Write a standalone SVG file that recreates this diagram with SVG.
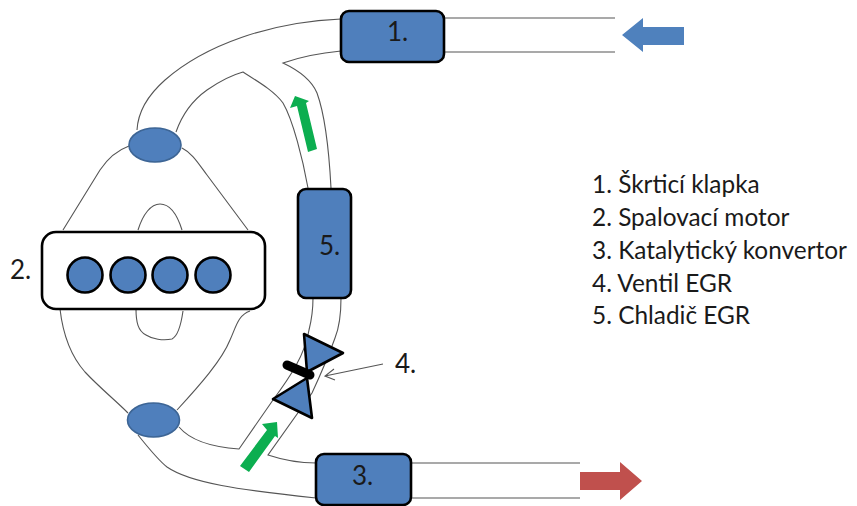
<svg xmlns="http://www.w3.org/2000/svg" width="857" height="506" viewBox="0 0 857 506">
<style>
.pipe{fill:none;stroke:#555;stroke-width:1.1}
.blue{fill:#4f7fbc;stroke:#000;stroke-width:2.6;stroke-linejoin:round}
.ell{fill:#4f7fbc;stroke:#3d6595;stroke-width:1.6}
.t{font-family:"Lato","Open Sans",sans-serif;font-size:26px;fill:#1a1a1a}
.l{font-family:"Lato","Open Sans",sans-serif;font-size:24.400px;fill:#1a1a1a}
.g{fill:#0cae50}
</style>
<rect width="857" height="506" fill="#fff"/>
<g id="connectors">
<path class="pipe" d="M341 19C270 22 205 45 165 80C148 95 138 112 137 130"/>
<path class="pipe" d="M176 132C183 112 193 100 207 90C220 81 232 75 243 72C262 84 275 92 283 103C293 120 303 160 308 188"/>
<path class="pipe" d="M341 51C320 53 300 57 283 63C300 71 312 81 317 93C325 115 329 150 331 188"/>
<path class="pipe" d="M444 18H615M444 52H615"/>
<path class="pipe" d="M129 146C118 150 108 158 100 170L63 230"/>
<path class="pipe" d="M182 148C192 153 198 163 207 175L248 230"/>
<path class="pipe" d="M138 230C143 214 151 204 160 204C170 204 177 214 182 230"/>
<path class="pipe" d="M60 309C63 335 70 355 85 372C100 388 115 400 128 413"/>
<path class="pipe" d="M250 311C238 315 236 327 230 340C222 360 200 385 177 410"/>
<path class="pipe" d="M136 309C136 322 138 331 146 335C152 339 163 341 172 339C178 336 181 325 183 311"/>
<path class="pipe" d="M179 427C190 440 210 447 239 449L273 400C290 377 305 355 309 330C312 318 313 308 313 298"/>
<path class="pipe" d="M341 298C341 315 339 328 335 338C330 352 325 365 312 393L268 455C280 459 295 463 316 463"/>
<path class="pipe" d="M138 435C150 450 158 460 167 467C190 483 240 490 316 498"/>
<path class="pipe" d="M411 463H580M411 498H580"/>
<path class="pipe" d="M383 364L325 376M334 369L325 376L335 380"/>
</g>
<g id="node-1"><rect class="blue" x="341" y="11" width="103" height="51" rx="8"/><text class="t" x="387" y="41">1.</text></g>
<g id="node-2">
<rect x="42" y="232" width="223" height="77" rx="14" fill="#fff" stroke="#000" stroke-width="2.6"/>
<circle class="blue" cx="85" cy="275" r="17.500"/><circle class="blue" cx="128" cy="275" r="17.500"/><circle class="blue" cx="170" cy="275" r="17.500"/><circle class="blue" cx="213" cy="275" r="17.500"/>
<text class="t" x="10" y="279">2.</text>
</g>
<g id="intake-port"><ellipse class="ell" cx="155" cy="145" rx="26" ry="17"/></g>
<g id="exhaust-port"><ellipse class="ell" cx="153.500" cy="420" rx="26" ry="17"/></g>
<g id="node-5"><rect class="blue" x="298" y="189" width="53" height="109" rx="8"/><text class="t" x="319" y="255">5.</text></g>
<g id="node-3"><rect class="blue" x="316" y="454" width="95" height="51" rx="8"/><text class="t" x="352" y="485">3.</text></g>
<g id="node-4">
<path class="blue" d="M304 334L343 353L307 372Z"/>
<path class="blue" d="M273 399L312 418L307 378Z"/>
<path d="M287 365L310 375" stroke="#000" stroke-width="9" stroke-linecap="round" fill="none"/>
<text class="t" x="395" y="373">4.</text>
</g>
<g id="flow-arrows">
<path class="g" d="M295 96L290 108L297 106L308 152L317 149L306 103L309 101Z"/>
<path class="g" d="M277 422L262 424L267 430L240 466L249 472L275 436L278 438Z"/>
<path d="M622 35L643 18V27H684V45H643V52Z" fill="#4f81bd"/>
<path d="M642 481L620 462V472H580V490H620V500Z" fill="#c0504d"/>
</g>
<g id="legend">
<text class="l" x="592" y="193">1. Škrticí klapka</text>
<text class="l" x="592" y="226">2. Spalovací motor</text>
<text class="l" x="592" y="259">3. Katalytický konvertor</text>
<text class="l" x="592" y="292">4. Ventil EGR</text>
<text class="l" x="592" y="324">5. Chladič EGR</text>
</g>
</svg>
